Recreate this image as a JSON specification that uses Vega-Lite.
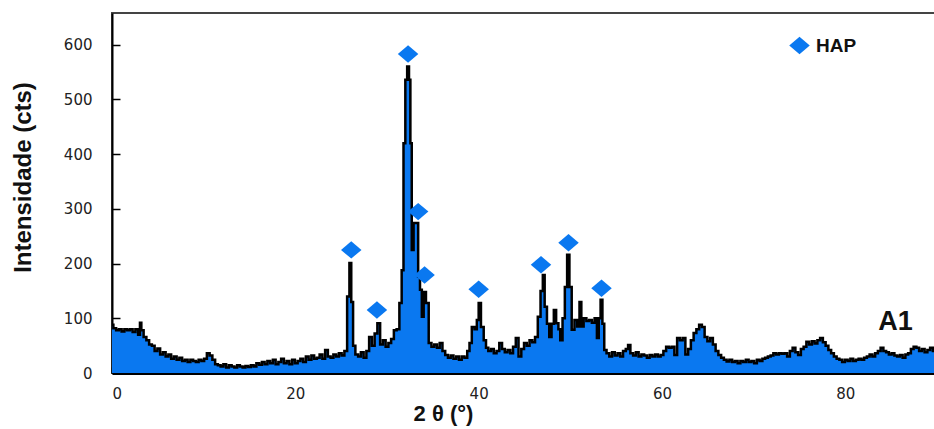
{
  "$schema": "https://vega.github.io/schema/vega-lite/v6.json",
  "autosize": {"type": "none"},
  "padding": {"left": 112, "top": 13, "right": 0, "bottom": 56},
  "width": 825,
  "height": 360,
  "config": {
    "view": {"stroke": "#444", "strokeWidth": 2},
    "font": "Liberation Sans"
  },
  "datasets": {
    "xrd": [
      {"t":0.0,"i":88},{"t":0.3,"i":82},{"t":0.6,"i":78},{"t":0.9,"i":80},{"t":1.2,"i":76},{"t":1.5,"i":80},{"t":1.8,"i":78},{"t":2.1,"i":80},{"t":2.4,"i":75},{"t":2.7,"i":80},
      {"t":3.0,"i":70},{"t":3.1,"i":92},{"t":3.3,"i":78},{"t":3.6,"i":66},{"t":3.9,"i":60},{"t":4.2,"i":52},{"t":4.5,"i":50},{"t":4.8,"i":40},{"t":5.1,"i":45},{"t":5.4,"i":34},
      {"t":5.7,"i":38},{"t":6.0,"i":30},{"t":6.3,"i":34},{"t":6.6,"i":26},{"t":6.9,"i":30},{"t":7.2,"i":24},{"t":7.5,"i":28},{"t":7.8,"i":22},{"t":8.1,"i":24},{"t":8.4,"i":20},
      {"t":8.7,"i":24},{"t":9.0,"i":22},{"t":9.3,"i":20},{"t":9.6,"i":24},{"t":9.9,"i":22},{"t":10.2,"i":26},{"t":10.5,"i":36},{"t":10.8,"i":32},{"t":11.1,"i":24},{"t":11.4,"i":16},
      {"t":11.7,"i":14},{"t":12.0,"i":12},{"t":12.3,"i":16},{"t":12.6,"i":10},{"t":12.9,"i":14},{"t":13.2,"i":12},{"t":13.5,"i":10},{"t":13.8,"i":14},{"t":14.1,"i":12},{"t":14.4,"i":10},
      {"t":14.7,"i":13},{"t":15.0,"i":11},{"t":15.3,"i":14},{"t":15.6,"i":12},{"t":15.9,"i":18},{"t":16.2,"i":15},{"t":16.5,"i":20},{"t":16.8,"i":16},{"t":17.1,"i":22},{"t":17.4,"i":18},
      {"t":17.7,"i":24},{"t":18.0,"i":16},{"t":18.3,"i":20},{"t":18.6,"i":26},{"t":18.9,"i":18},{"t":19.2,"i":22},{"t":19.5,"i":16},{"t":19.8,"i":24},{"t":20.1,"i":18},{"t":20.4,"i":22},
      {"t":20.7,"i":26},{"t":21.0,"i":20},{"t":21.3,"i":30},{"t":21.6,"i":24},{"t":21.9,"i":32},{"t":22.2,"i":26},{"t":22.5,"i":28},{"t":22.8,"i":34},{"t":23.1,"i":26},{"t":23.4,"i":42},
      {"t":23.7,"i":30},{"t":24.0,"i":28},{"t":24.3,"i":34},{"t":24.6,"i":30},{"t":24.9,"i":36},{"t":25.2,"i":32},{"t":25.5,"i":40},{"t":25.8,"i":140},{"t":26.0,"i":201},{"t":26.2,"i":130},
      {"t":26.4,"i":50},{"t":26.7,"i":34},{"t":27.0,"i":30},{"t":27.3,"i":38},{"t":27.6,"i":28},{"t":27.9,"i":40},{"t":28.2,"i":66},{"t":28.5,"i":50},{"t":28.8,"i":72},{"t":29.1,"i":91},
      {"t":29.4,"i":52},{"t":29.7,"i":60},{"t":30.0,"i":48},{"t":30.3,"i":55},{"t":30.6,"i":62},{"t":30.9,"i":78},{"t":31.2,"i":80},{"t":31.5,"i":128},{"t":31.7,"i":188},{"t":31.9,"i":420},
      {"t":32.1,"i":536},{"t":32.3,"i":560},{"t":32.5,"i":536},{"t":32.6,"i":420},{"t":32.8,"i":225},{"t":33.0,"i":274},{"t":33.3,"i":274},{"t":33.5,"i":176},{"t":33.7,"i":152},{"t":33.9,"i":103},
      {"t":34.1,"i":148},{"t":34.4,"i":128},{"t":34.7,"i":55},{"t":35.0,"i":48},{"t":35.3,"i":52},{"t":35.6,"i":46},{"t":35.9,"i":55},{"t":36.2,"i":40},{"t":36.5,"i":33},{"t":36.8,"i":28},
      {"t":37.1,"i":32},{"t":37.4,"i":26},{"t":37.7,"i":30},{"t":38.0,"i":24},{"t":38.3,"i":30},{"t":38.6,"i":28},{"t":38.9,"i":40},{"t":39.1,"i":55},{"t":39.4,"i":84},{"t":39.7,"i":80},
      {"t":39.9,"i":97},{"t":40.1,"i":128},{"t":40.4,"i":84},{"t":40.7,"i":60},{"t":40.9,"i":46},{"t":41.2,"i":40},{"t":41.5,"i":44},{"t":41.8,"i":36},{"t":42.1,"i":40},{"t":42.4,"i":55},
      {"t":42.7,"i":44},{"t":43.0,"i":38},{"t":43.3,"i":42},{"t":43.6,"i":36},{"t":43.9,"i":48},{"t":44.2,"i":64},{"t":44.5,"i":30},{"t":44.8,"i":44},{"t":45.1,"i":55},{"t":45.4,"i":50},
      {"t":45.7,"i":60},{"t":46.0,"i":56},{"t":46.3,"i":66},{"t":46.6,"i":103},{"t":46.9,"i":150},{"t":47.1,"i":179},{"t":47.3,"i":121},{"t":47.6,"i":90},{"t":47.8,"i":66},{"t":48.1,"i":90},
      {"t":48.3,"i":115},{"t":48.6,"i":91},{"t":48.8,"i":80},{"t":49.0,"i":60},{"t":49.3,"i":100},{"t":49.5,"i":157},{"t":49.8,"i":216},{"t":50.0,"i":157},{"t":50.3,"i":79},{"t":50.6,"i":97},
      {"t":50.9,"i":85},{"t":51.1,"i":130},{"t":51.3,"i":85},{"t":51.6,"i":100},{"t":51.9,"i":95},{"t":52.2,"i":97},{"t":52.5,"i":92},{"t":52.8,"i":100},{"t":53.0,"i":64},{"t":53.2,"i":100},
      {"t":53.4,"i":134},{"t":53.6,"i":90},{"t":53.8,"i":42},{"t":54.1,"i":36},{"t":54.4,"i":30},{"t":54.7,"i":38},{"t":55.0,"i":32},{"t":55.3,"i":36},{"t":55.6,"i":30},{"t":55.9,"i":40},
      {"t":56.2,"i":44},{"t":56.4,"i":51},{"t":56.7,"i":36},{"t":57.0,"i":32},{"t":57.3,"i":38},{"t":57.6,"i":30},{"t":57.9,"i":34},{"t":58.2,"i":32},{"t":58.5,"i":28},{"t":58.8,"i":33},
      {"t":59.1,"i":30},{"t":59.4,"i":34},{"t":59.7,"i":30},{"t":60.0,"i":33},{"t":60.3,"i":40},{"t":60.6,"i":48},{"t":60.9,"i":46},{"t":61.2,"i":48},{"t":61.5,"i":33},{"t":61.8,"i":64},
      {"t":62.1,"i":60},{"t":62.4,"i":64},{"t":62.7,"i":34},{"t":63.0,"i":44},{"t":63.3,"i":60},{"t":63.6,"i":73},{"t":63.9,"i":80},{"t":64.2,"i":88},{"t":64.5,"i":84},{"t":64.8,"i":66},
      {"t":65.1,"i":58},{"t":65.4,"i":64},{"t":65.7,"i":52},{"t":66.0,"i":40},{"t":66.3,"i":33},{"t":66.6,"i":28},{"t":66.9,"i":24},{"t":67.2,"i":21},{"t":67.5,"i":24},{"t":67.8,"i":20},
      {"t":68.1,"i":22},{"t":68.4,"i":18},{"t":68.7,"i":22},{"t":69.0,"i":20},{"t":69.3,"i":24},{"t":69.6,"i":20},{"t":69.9,"i":22},{"t":70.2,"i":18},{"t":70.5,"i":24},{"t":70.8,"i":22},
      {"t":71.1,"i":26},{"t":71.4,"i":28},{"t":71.7,"i":30},{"t":72.0,"i":32},{"t":72.3,"i":36},{"t":72.6,"i":34},{"t":72.9,"i":36},{"t":73.2,"i":35},{"t":73.5,"i":36},{"t":73.8,"i":30},
      {"t":74.1,"i":40},{"t":74.4,"i":46},{"t":74.7,"i":38},{"t":75.0,"i":33},{"t":75.3,"i":44},{"t":75.6,"i":48},{"t":75.9,"i":57},{"t":76.2,"i":52},{"t":76.5,"i":58},{"t":76.8,"i":54},
      {"t":77.1,"i":60},{"t":77.4,"i":64},{"t":77.7,"i":56},{"t":78.0,"i":50},{"t":78.3,"i":42},{"t":78.6,"i":36},{"t":78.9,"i":30},{"t":79.2,"i":26},{"t":79.5,"i":24},{"t":79.8,"i":20},
      {"t":80.1,"i":24},{"t":80.4,"i":22},{"t":80.7,"i":26},{"t":81.0,"i":22},{"t":81.3,"i":24},{"t":81.6,"i":26},{"t":81.9,"i":24},{"t":82.2,"i":28},{"t":82.5,"i":30},{"t":82.8,"i":34},
      {"t":83.1,"i":30},{"t":83.4,"i":36},{"t":83.7,"i":40},{"t":84.0,"i":46},{"t":84.3,"i":40},{"t":84.6,"i":38},{"t":84.9,"i":34},{"t":85.2,"i":36},{"t":85.5,"i":32},{"t":85.8,"i":30},
      {"t":86.1,"i":33},{"t":86.4,"i":28},{"t":86.7,"i":34},{"t":87.0,"i":36},{"t":87.3,"i":44},{"t":87.6,"i":48},{"t":87.9,"i":46},{"t":88.2,"i":40},{"t":88.5,"i":44},{"t":88.8,"i":38},
      {"t":89.1,"i":42},{"t":89.4,"i":46},{"t":89.7,"i":40},{"t":90.0,"i":42}
    ],
    "peaks": [
      {"t":26.1,"i":225,"phase":"HAP"},{"t":28.9,"i":115,"phase":"HAP"},{"t":32.3,"i":583,"phase":"HAP"},
      {"t":33.4,"i":295,"phase":"HAP"},{"t":34.1,"i":179,"phase":"HAP"},{"t":40.0,"i":153,"phase":"HAP"},
      {"t":46.8,"i":198,"phase":"HAP"},{"t":49.8,"i":238,"phase":"HAP"},{"t":53.4,"i":155,"phase":"HAP"}
    ],
    "labels": [{"name": "A1"}]
  },
  "layer": [
    {
      "data": {"name": "xrd"},
      "mark": {"type": "area", "interpolate": "step", "color": "#0a78f0", "clip": true},
      "encoding": {
        "x": {
          "field": "t", "type": "quantitative",
          "scale": {"domain": [0, 90], "nice": false, "zero": false},
          "axis": {
            "title": "2 θ (°)",
            "values": [0, 20, 40, 60, 80],
            "format": "d",
            "grid": false,
            "domainColor": "#000", "domainWidth": 3,
            "tickColor": "#000", "tickSize": -6, "tickWidth": 1.5,
            "labelFontSize": 15, "labelColor": "#222", "labelPadding": 19, "labelFont": "DejaVu Sans",
            "titleFontSize": 22, "titleFontWeight": "bold", "titleColor": "#111",
            "titleX": 331, "titleY": 40, "titleBaseline": "middle"
          }
        },
        "y": {
          "field": "i", "type": "quantitative",
          "scale": {"domain": [0, 658], "nice": false},
          "axis": {
            "title": "Intensidade (cts)",
            "values": [0, 50, 100, 150, 200, 250, 300, 350, 400, 450, 500, 550, 600],
            "labelExpr": "datum.value % 100 === 0 ? datum.label : ''",
            "grid": false,
            "domainColor": "#000", "domainWidth": 2,
            "tickColor": "#000", "tickWidth": 1.5,
            "tickSize": {"condition": {"test": "datum.value % 100 === 0", "value": -8}, "value": -5},
            "labelFontSize": 15, "labelColor": "#222", "labelPadding": 28, "labelFont": "DejaVu Sans",
            "titleFontSize": 24, "titleFontWeight": "bold", "titleColor": "#111",
            "titleAngle": -90, "titleX": -89, "titleY": 164, "titleBaseline": "middle", "titleAlign": "center"
          }
        }
      }
    },
    {
      "data": {"name": "xrd"},
      "mark": {"type": "line", "interpolate": "step", "color": "#000", "strokeWidth": 2.5, "clip": true},
      "encoding": {
        "x": {"field": "t", "type": "quantitative"},
        "y": {"field": "i", "type": "quantitative"}
      }
    },
    {
      "data": {"name": "peaks"},
      "mark": {"type": "point", "filled": true, "opacity": 1, "shape": "M-1,0L0,-0.85L1,0L0,0.85Z", "size": 420},
      "encoding": {
        "x": {"field": "t", "type": "quantitative"},
        "y": {"field": "i", "type": "quantitative"},
        "color": {
          "field": "phase", "type": "nominal",
          "scale": {"range": ["#0a78f0"]},
          "legend": {
            "title": null, "orient": "none", "legendX": 677, "legendY": 22,
            "symbolType": "M-1,0L0,-0.85L1,0L0,0.85Z", "symbolSize": 420, "symbolStrokeWidth": 0,
            "labelFontSize": 19, "labelFontWeight": "bold", "labelColor": "#111", "labelFont": "Liberation Sans",
            "padding": 0, "labelOffset": 6
          }
        }
      }
    },
    {
      "data": {"name": "labels"},
      "mark": {"type": "text", "fontSize": 27, "fontWeight": "bold", "color": "#111", "align": "left", "baseline": "alphabetic", "font": "Liberation Sans"},
      "encoding": {
        "text": {"field": "name", "type": "nominal"},
        "x": {"datum": 83.6, "type": "quantitative"},
        "y": {"datum": 79, "type": "quantitative"}
      }
    }
  ]
}
